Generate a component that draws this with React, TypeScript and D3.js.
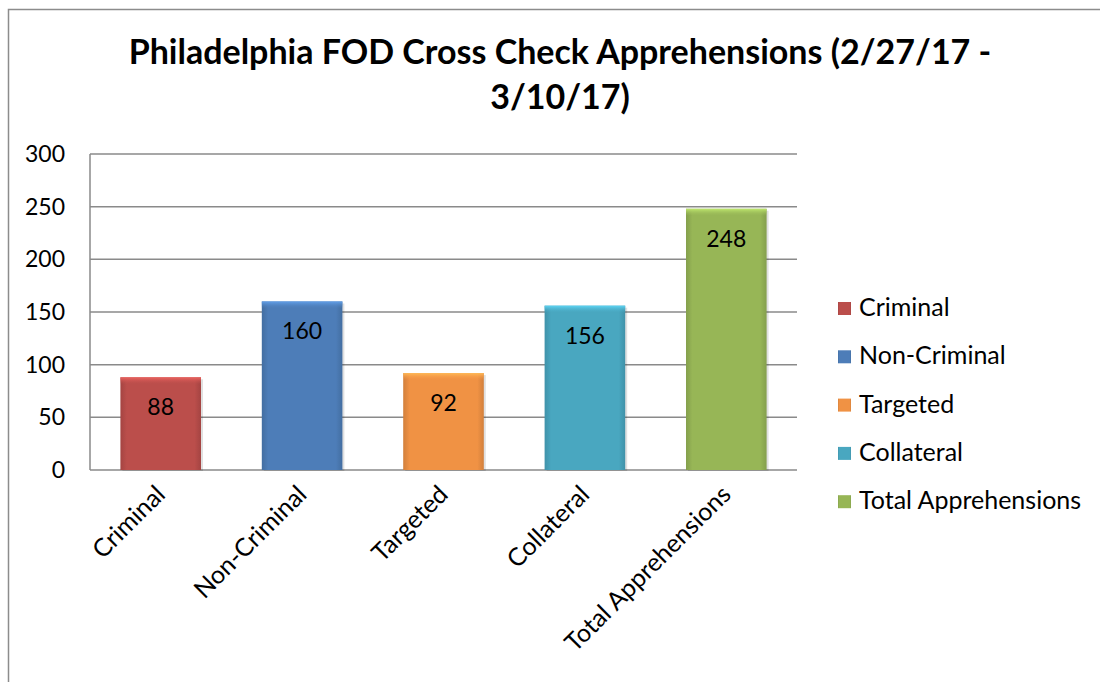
import * as React from 'react';
import * as d3 from 'd3';

const CATEGORIES = ['Criminal', 'Non-Criminal', 'Targeted', 'Collateral', 'Total Apprehensions'];
const VALUES = [88, 160, 92, 156, 248];
const COLORS = ['#C0504D', '#4F81BD', '#F79646', '#4BACC6', '#9BBB59'];
const Y_TICKS = [0, 50, 100, 150, 200, 250, 300];
const TITLE_LINES = ['Philadelphia FOD Cross Check Apprehensions (2/27/17 -', '3/10/17)'];

const WIDTH = 1100;
const HEIGHT = 682;
const FONT = 'Lato, "Open Sans", sans-serif';

// plot area in page coords (svg sits at 0,0 of the page)
const PLOT = { left: 90, top: 154, right: 797, bottom: 470 };

export default function App() {
    const x = d3.scaleBand<string>()
        .domain(CATEGORIES)
        .range([PLOT.left, PLOT.right])
        .paddingInner(0.43)
        .paddingOuter(0.215);

    const y = d3.scaleLinear()
        .domain([0, 300])
        .range([PLOT.bottom, PLOT.top]);

    const band = d3.scaleBand<string>().domain(CATEGORIES).range([PLOT.left, PLOT.right]);

    return (
        <svg width={WIDTH} height={HEIGHT}
            style={{ position: 'absolute', left: 0, top: 0, background: '#fff' }}>
            <defs>
                {COLORS.map((c, i) => {
                    const base = d3.color(c)!;
                    return (
                        <linearGradient key={i} id={'bar' + i} x1="0" x2="1" y1="0" y2="0">
                            <stop offset="0" stopColor={base.darker(0.45).toString()} />
                            <stop offset="0.08" stopColor={base.darker(0.08).toString()} />
                            <stop offset="0.92" stopColor={base.darker(0.08).toString()} />
                            <stop offset="1" stopColor={base.darker(0.45).toString()} />
                        </linearGradient>
                    );
                })}
                {COLORS.map((c, i) => {
                    const base = d3.color(c)!;
                    return (
                        <linearGradient key={'t' + i} id={'top' + i} x1="0" x2="0" y1="0" y2="1">
                            <stop offset="0" stopColor={base.brighter(0.6).toString()} />
                            <stop offset="1" stopColor={c} stopOpacity={0} />
                        </linearGradient>
                    );
                })}
            </defs>

            {/* outer chart frame */}
            <path d={`M8.5,${HEIGHT} V9.5 H${WIDTH}`} fill="none" stroke="#8c8c8c" strokeWidth={1.5} />

            {/* title */}
            <text x={560} fontFamily={FONT} fontWeight="bold" fontSize={34} textAnchor="middle" fill="#000">
                {TITLE_LINES.map((t, i) => (
                    <tspan key={i} x={560} y={64 + i * 45}>{t}</tspan>
                ))}
            </text>

            {/* gridlines */}
            {Y_TICKS.map(t => (
                <line key={t} x1={PLOT.left} x2={PLOT.right} y1={y(t)} y2={y(t)}
                    stroke="#8a8a8a" strokeWidth={1.5} />
            ))}
            <line x1={PLOT.left} x2={PLOT.left} y1={PLOT.top} y2={PLOT.bottom} stroke="#8a8a8a" strokeWidth={1.5} />

            {/* y tick labels */}
            {Y_TICKS.map(t => (
                <text key={t} x={65} y={y(t) + 8} fontFamily={FONT} fontSize={23} textAnchor="end" fill="#000">{t}</text>
            ))}

            {/* bars */}
            {CATEGORIES.map((c, i) => {
                const bx = x(c)!;
                const bw = x.bandwidth();
                const top = y(VALUES[i]);
                const h = PLOT.bottom - top;
                return (
                    <g key={c}>
                        <rect x={bx + 2} y={top + 2} width={bw} height={h - 1} fill="#000" opacity={0.12} />
                        <rect x={bx} y={top} width={bw} height={h} fill={`url(#bar${i})`} />
                        <rect x={bx} y={top} width={bw} height={7} fill={`url(#top${i})`} />
                        <text x={bx + bw / 2} y={top + 38} fontFamily={FONT} fontSize={23}
                            textAnchor="middle" fill="#000">{VALUES[i]}</text>
                    </g>
                );
            })}

            {/* x labels */}
            {CATEGORIES.map(c => {
                const cx = band(c)! + band.bandwidth() / 2 + 6;
                return (
                    <text key={c} transform={`translate(${cx},${PLOT.bottom + 26}) rotate(-45)`}
                        fontFamily={FONT} fontSize={25} textAnchor="end" fill="#000">{c}</text>
                );
            })}

            {/* legend */}
            {CATEGORIES.map((c, i) => {
                const ly = 308 + i * 48.3;
                return (
                    <g key={c}>
                        <rect x={838} y={ly - 6} width={13} height={13} fill={`url(#bar${i})`} />
                        <text x={859} y={ly + 8} fontFamily={FONT} fontSize={25} fill="#000">{c}</text>
                    </g>
                );
            })}
        </svg>
    );
}
